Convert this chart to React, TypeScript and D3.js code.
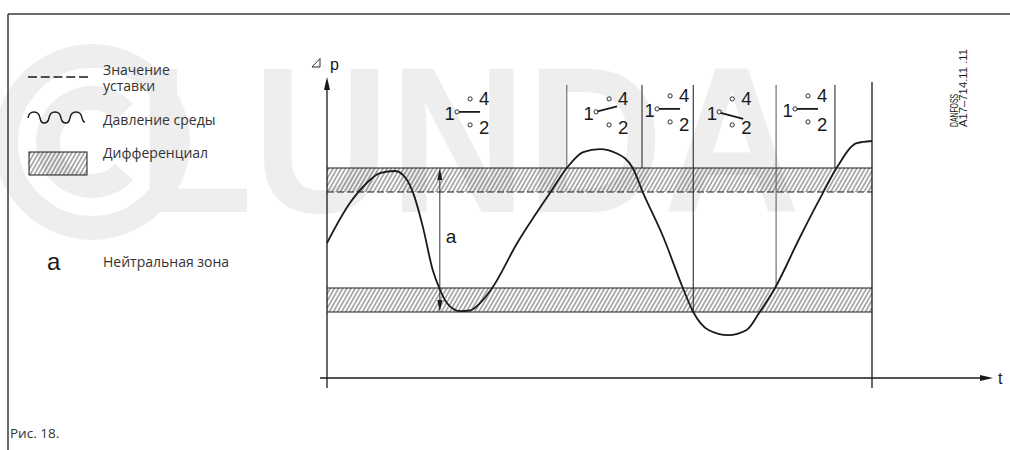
import React from 'react';
import * as d3 from 'd3';

// medium pressure curve: time t (0..100) vs. pressure p (0..100)
const curveT = [0, 4.2, 7.3, 9.7, 12.5, 14.5, 15.8, 17.6, 19.4, 20.6, 22, 24.4, 26.2, 28.1, 30.3, 34.9, 40.9, 44, 47, 50.1, 53, 56.1, 58, 61.7, 65.3, 67.2, 70, 73.6, 77, 79.4, 82.2, 86.8, 91, 93.6, 97.2, 100];
const curveP = [45, 58.3, 65, 68.3, 69, 66.5, 61.7, 50.3, 36, 30, 25, 22.3, 22.5, 25, 30, 45, 61.7, 70, 75.3, 76.3, 75, 70, 61.7, 47, 30, 22, 16, 14.3, 16, 22, 30, 47, 61.7, 70.3, 78.3, 79];

// differential bands (p from / to)
const upperBand = [62, 70];
const lowerBand = [22, 30];

// switching moments
const switchT = [44, 57.8, 67.2, 82.4, 93.2, 100];
const switchBottom = [70, 70, 22, 30, 70, -3.3];
const switchTop = [97.7, 97.7, 97.7, 97.7, 97.7, 98.7];

// contact symbols 1-4 / 1-2
const symbolT = [21.3, 46.8, 58, 69.4, 83.3];
const symbolP = [88.7, 88.7, 89.7, 88.7, 89.7];
const symbolState = ['mid', 'up', 'mid', 'down', 'mid'];

const neutralT = 20.7;

const legendLabels = [['Значение', 'уставки'], ['Давление среды'], ['Дифференциал'], ['Нейтральная зона']];

const ink = '#1a1a1a';
const wm = '#eeeeee';
const legendFont = '"Open Sans", "Noto Sans", sans-serif';
const chartFont = '"Liberation Sans", Arial, sans-serif';

function Switch({ xs, yp, state }: { xs: number; yp: number; state: string }) {
  let lever = [xs + 16, yp, xs + 37, yp];
  if (state === 'up') lever = [xs + 15.5, yp - 0.5, xs + 35, yp - 5.5];
  if (state === 'down') lever = [xs + 15.5, yp + 1, xs + 38, yp + 7];
  return (
    <g fontFamily={chartFont} fontSize={18.5} fill={ink}>
      <text x={xs + 1.5} y={yp + 8}>1</text>
      <circle cx={xs + 14} cy={yp} r={2.1} fill="white" stroke={ink} strokeWidth={0.9} />
      <circle cx={xs + 27} cy={yp - 13} r={2.1} fill="white" stroke={ink} strokeWidth={0.9} />
      <circle cx={xs + 27} cy={yp + 13} r={2.1} fill="white" stroke={ink} strokeWidth={0.9} />
      <line x1={lever[0]} y1={lever[1]} x2={lever[2]} y2={lever[3]} stroke={ink} strokeWidth={1.8} />
      <text x={xs + 36} y={yp - 7}>4</text>
      <text x={xs + 36} y={yp + 22}>2</text>
    </g>
  );
}

export default function App() {
  const width = 1010;
  const height = 450;

  const x = d3.scaleLinear().domain([0, 100]).range([327, 872]);
  const y = d3.scaleLinear().domain([0, 100]).range([378, 78]);

  const pts: [number, number][] = curveT.map((t, i) => [t, curveP[i]]);
  const line = d3.line<[number, number]>()
    .x(d => x(d[0]))
    .y(d => y(d[1]))
    .curve(d3.curveMonotoneX);

  const x0 = x(0);
  const x1 = x(100);
  const axisY = y(0);
  const axisTop = y(100.3);
  const xArrowEnd = 993;
  const na = x(neutralT);

  return (
    <svg width={width} height={height} style={{ position: 'absolute', left: 0, top: 0, background: 'white' }}>
      <defs>
        <pattern id="hatch" width={3.6} height={10} patternUnits="userSpaceOnUse" patternTransform="rotate(30)">
          <line x1={1.8} y1={0} x2={1.8} y2={10} stroke="#222" strokeWidth={0.75} />
        </pattern>
      </defs>

      {/* watermark */}
      <g fill={wm} stroke="none">
        <circle cx={92} cy={142} r={86} fill="none" stroke={wm} strokeWidth={24} />
        <path d={d3.arc()({ innerRadius: 32, outerRadius: 56, startAngle: 0.75, endAngle: Math.PI * 2 - 0.75 }) || ''}
          transform="translate(92,142) rotate(90)" />
        <text x={137} y={212} fontFamily={chartFont} fontWeight="bold" fontSize={208}
          textLength={663} lengthAdjust="spacingAndGlyphs">LUNDA</text>
      </g>

      {/* frame */}
      <line x1={8} y1={14} x2={width} y2={14} stroke="#3a3a3a" strokeWidth={1.5} />
      <line x1={8} y1={14} x2={8} y2={height} stroke="#3a3a3a" strokeWidth={1.5} />

      {/* legend */}
      <g>
        <line x1={28} y1={77} x2={88} y2={77} stroke={ink} strokeWidth={1.5} strokeDasharray="9,3.75" />
        <path d="M28,118 Q29,112 34,112 Q39,112 40,118 Q41,123 44,123 Q48,123 49,118 Q50,112 55,112 Q60,112 61,118 Q62,123 66,123 Q69,123 70,118 Q71,112 76,112 Q81,112 82,118 Q83,122 85,122"
          fill="none" stroke={ink} strokeWidth={1.4} />
        <rect x={29} y={152} width={58} height={23} fill="url(#hatch)" stroke={ink} strokeWidth={1} />
        <text x={47} y={270} fontFamily={chartFont} fontSize={24} fill={ink}>a</text>
        <g fontFamily={legendFont} fontSize={14} fill="#333">
          <text x={103} y={75}>{legendLabels[0][0]}</text>
          <text x={103} y={91}>{legendLabels[0][1]}</text>
          <text x={103} y={125}>{legendLabels[1][0]}</text>
          <text x={103} y={158}>{legendLabels[2][0]}</text>
          <text x={103} y={267}>{legendLabels[3][0]}</text>
        </g>
      </g>

      {/* bands */}
      <rect x={x0} y={y(upperBand[1])} width={x1 - x0} height={y(upperBand[0]) - y(upperBand[1])} fill="url(#hatch)" />
      <rect x={x0} y={y(lowerBand[1])} width={x1 - x0} height={y(lowerBand[0]) - y(lowerBand[1])} fill="url(#hatch)" />
      <line x1={x0} x2={x1} y1={y(upperBand[1])} y2={y(upperBand[1])} stroke={ink} strokeWidth={1} />
      <line x1={x0} x2={x1} y1={y(upperBand[0])} y2={y(upperBand[0])} stroke={ink} strokeWidth={1.2} strokeDasharray="7,3" />
      <line x1={x0} x2={x1} y1={y(lowerBand[1])} y2={y(lowerBand[1])} stroke={ink} strokeWidth={1} />
      <line x1={x0} x2={x1} y1={y(lowerBand[0])} y2={y(lowerBand[0])} stroke={ink} strokeWidth={1} />

      {/* switching lines */}
      {switchT.map((t, i) => (
        <line key={i} x1={x(t)} x2={x(t)} y1={y(switchTop[i])} y2={y(switchBottom[i])}
          stroke={i === 0 || i === 3 ? '#555' : ink} strokeWidth={i === 5 ? 1.3 : 1} />
      ))}

      {/* neutral zone arrow */}
      <line x1={na} x2={na} y1={y(upperBand[1]) + 4} y2={y(lowerBand[0]) - 4} stroke="#333" strokeWidth={1} />
      <path d={`M${na},${y(upperBand[1])} L${na - 2.5},${y(upperBand[1]) + 12} L${na + 2.5},${y(upperBand[1]) + 12} Z`} fill={ink} />
      <path d={`M${na},${y(lowerBand[0])} L${na - 2.5},${y(lowerBand[0]) - 12} L${na + 2.5},${y(lowerBand[0]) - 12} Z`} fill={ink} />
      <text x={na + 6} y={243} fontFamily={chartFont} fontSize={19} fill={ink}>a</text>

      {/* pressure curve */}
      <path d={line(pts) || ''} fill="none" stroke={ink} strokeWidth={1.8} />

      {/* axes */}
      <line x1={x0} x2={x0} y1={axisTop + 8} y2={388} stroke={ink} strokeWidth={1.3} />
      <path d={`M${x0},${axisTop} L${x0 - 3},${axisTop + 13} L${x0 + 3},${axisTop + 13} Z`} fill={ink} />
      <line x1={320} x2={xArrowEnd - 8} y1={axisY} y2={axisY} stroke={ink} strokeWidth={1.5} />
      <path d={`M${xArrowEnd},${axisY} L${xArrowEnd - 13},${axisY - 3} L${xArrowEnd - 13},${axisY + 3} Z`} fill={ink} />
      <text x={998} y={384} fontFamily={chartFont} fontSize={16} fill={ink}>t</text>
      <path d="M312,67 L320,58.5 L320,67 Z" fill="none" stroke={ink} strokeWidth={0.9} />
      <text x={330} y={70} fontFamily={chartFont} fontSize={16} fill={ink}>p</text>

      {/* contact symbols */}
      {symbolT.map((t, i) => (
        <Switch key={i} xs={x(t)} yp={y(symbolP[i])} state={symbolState[i]} />
      ))}

      {/* drawing number */}
      <g fontFamily={chartFont} fontSize={10} fill={ink}>
        <text transform="translate(958,127) rotate(-90)" textLength={33} lengthAdjust="spacingAndGlyphs">DANFOSS</text>
        <text transform="translate(967,127) rotate(-90)" textLength={78} lengthAdjust="spacingAndGlyphs">A17–714.11 .11</text>
      </g>

      <text x={10} y={438} fontFamily={legendFont} fontSize={13.5} fill="#333">Рис. 18.</text>
    </svg>
  );
}
